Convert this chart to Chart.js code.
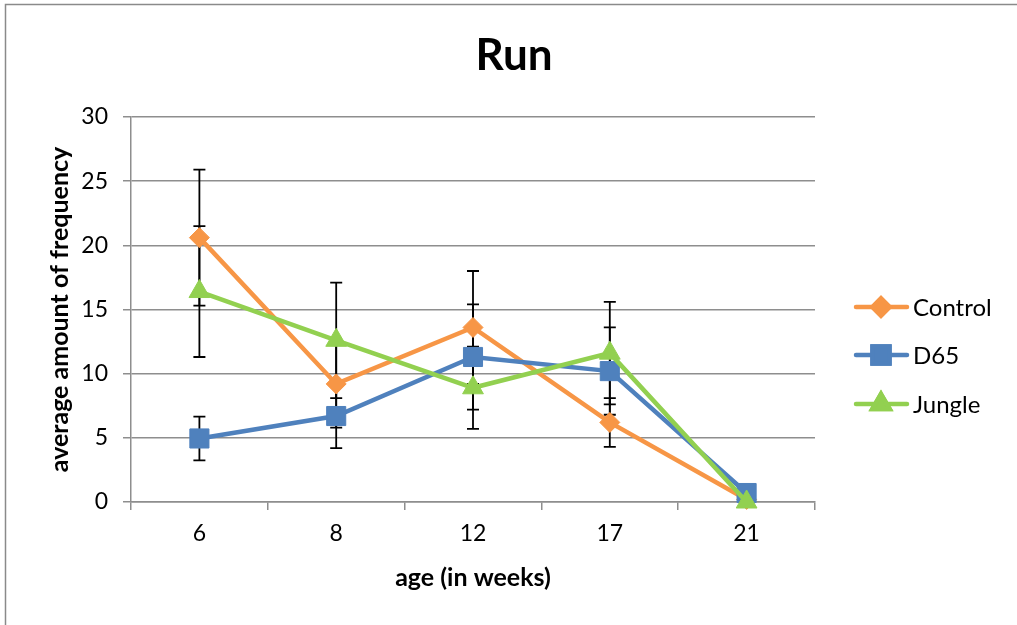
<!DOCTYPE html>
<html>
<head>
<meta charset="utf-8">
<script src="https://cdn.jsdelivr.net/npm/chart.js@4/dist/chart.umd.min.js"></script>
<style>
  html, body { margin: 0; padding: 0; background: #fff; }
  #wrap { width: 1017px; height: 625px; position: relative; }
</style>
</head>
<body>
<div id="wrap"><canvas id="c" width="1017" height="625"></canvas></div>
<script>
const categories = ['6', '8', '12', '17', '21'];
const controlValues = [20.6, 9.2, 13.6, 6.2, 0.2];
const controlErrors = [5.3, 3.4, 4.4, 1.9, 0];
const d65Values = [4.95, 6.7, 11.3, 10.2, 0.7];
const d65Errors = [1.7, 2.5, 4.1, 3.4, 0];
const jungleValues = [16.4, 12.6, 8.9, 11.6, 0];
const jungleErrors = [5.1, 4.5, 3.2, 4.0, 0];
const yTicks = [0, 5, 10, 15, 20, 25, 30];

const FONT = 'Lato, "Open Sans", "DejaVu Sans", sans-serif';
const GRID = '#8e8e8e';

const errorBars = {
  id: 'errorBars',
  beforeDatasetsDraw(chart) {
    const ctx = chart.ctx;
    const xs = chart.scales.x, ys = chart.scales.y;
    ctx.save();
    ctx.strokeStyle = '#000';
    ctx.lineWidth = 1.8;
    chart.data.datasets.forEach(ds => {
      ds.errors.forEach((e, i) => {
        if (!e) return;
        const v = ds.data[i];
        const px = xs.getPixelForValue(i);
        const top = ys.getPixelForValue(v + e);
        const bot = ys.getPixelForValue(v - e);
        ctx.beginPath();
        ctx.moveTo(px, top); ctx.lineTo(px, bot);
        ctx.moveTo(px - 6, top); ctx.lineTo(px + 6, top);
        ctx.moveTo(px - 6, bot); ctx.lineTo(px + 6, bot);
        ctx.stroke();
      });
    });
    ctx.restore();
  }
};

const decorations = {
  id: 'decorations',
  afterDraw(chart) {
    const ctx = chart.ctx;
    const xs = chart.scales.x, ys = chart.scales.y;
    ctx.save();
    // outer frame
    ctx.strokeStyle = '#8a8a8a';
    ctx.lineWidth = 1.5;
    ctx.beginPath();
    ctx.moveTo(5.5, 625); ctx.lineTo(5.5, 4.5); ctx.lineTo(1017, 4.5);
    ctx.stroke();
    // title
    ctx.fillStyle = '#000';
    ctx.textAlign = 'center';
    ctx.textBaseline = 'middle';
    ctx.font = 'bold 44px ' + FONT;
    ctx.fillText('Run', 514, 56);
    // x title
    ctx.font = 'bold 25px ' + FONT;
    ctx.fillText('age (in weeks)', (xs.left + xs.right) / 2, 578);
    // y title
    ctx.save();
    ctx.translate(60, (ys.top + ys.bottom) / 2);
    ctx.rotate(-Math.PI / 2);
    ctx.fillText('average amount of frequency', 0, 0);
    ctx.restore();
    // legend
    const items = chart.data.datasets;
    const ly = [307, 355, 404];
    items.forEach((ds, i) => {
      const y = ly[i];
      ctx.strokeStyle = ds.borderColor;
      ctx.lineWidth = 4.5;
      ctx.lineCap = 'round';
      ctx.beginPath();
      ctx.moveTo(856, y); ctx.lineTo(907, y);
      ctx.stroke();
      Chart.helpers.drawPoint(ctx, {
        pointStyle: ds.pointStyle,
        radius: ds.legendRadius,
        borderWidth: 1,
        rotation: 0
      }, 881, y);
      ctx.fillStyle = ds.borderColor;
      ctx.strokeStyle = ds.borderColor;
      ctx.fill();
      ctx.stroke();
      ctx.fillStyle = '#000';
      ctx.textAlign = 'left';
      ctx.textBaseline = 'middle';
      ctx.font = '24px ' + FONT;
      ctx.fillText(ds.label, 913, y + 1);
    });
    ctx.restore();
  }
};

const mk = (label, data, errors, color, style, r, lr, order) => ({
  label, data, errors, order,
  borderColor: color, backgroundColor: color,
  pointBackgroundColor: color, pointBorderColor: color,
  pointStyle: style, pointRadius: r, pointHoverRadius: r,
  pointBorderWidth: 1, borderWidth: 4.5, tension: 0,
  clip: false,
  legendRadius: lr
});

new Chart(document.getElementById('c'), {
  type: 'line',
  data: {
    labels: categories,
    datasets: [
      mk('Control', controlValues, controlErrors, '#F79646', 'rectRot', 10, 8.5, 3),
      mk('D65', d65Values, d65Errors, '#4F81BD', 'rect', 13.5, 12, 2),
      mk('Jungle', jungleValues, jungleErrors, '#92D050', 'triangle', 12, 10, 1)
    ]
  },
  options: {
    responsive: false,
    animation: false,
    events: [],
    layout: { padding: { left: 0, top: 117, right: 202, bottom: 0 } },
    plugins: { legend: { display: false }, title: { display: false }, tooltip: { enabled: false } },
    scales: {
      x: {
        type: 'category',
        offset: true,
        grid: { display: true, drawOnChartArea: false, drawTicks: true, tickLength: 8, offset: true, color: GRID, lineWidth: 1.5 },
        border: { display: true, color: GRID, width: 1.5 },
        ticks: { color: '#000', font: { family: FONT, size: 23 }, padding: 10, maxRotation: 0 },
        afterFit(s) { s.height = 123; }
      },
      y: {
        min: 0, max: 30,
        afterBuildTicks(s) { s.ticks = yTicks.map(v => ({ value: v })); },
        grid: { color: GRID, lineWidth: 1.5, tickLength: 8 },
        border: { display: true, color: GRID, width: 1.5 },
        ticks: { color: '#000', font: { family: FONT, size: 23 }, padding: 15 },
        afterFit(s) { s.width = 131; }
      }
    }
  },
  plugins: [errorBars, decorations]
});
</script>
</body>
</html>
